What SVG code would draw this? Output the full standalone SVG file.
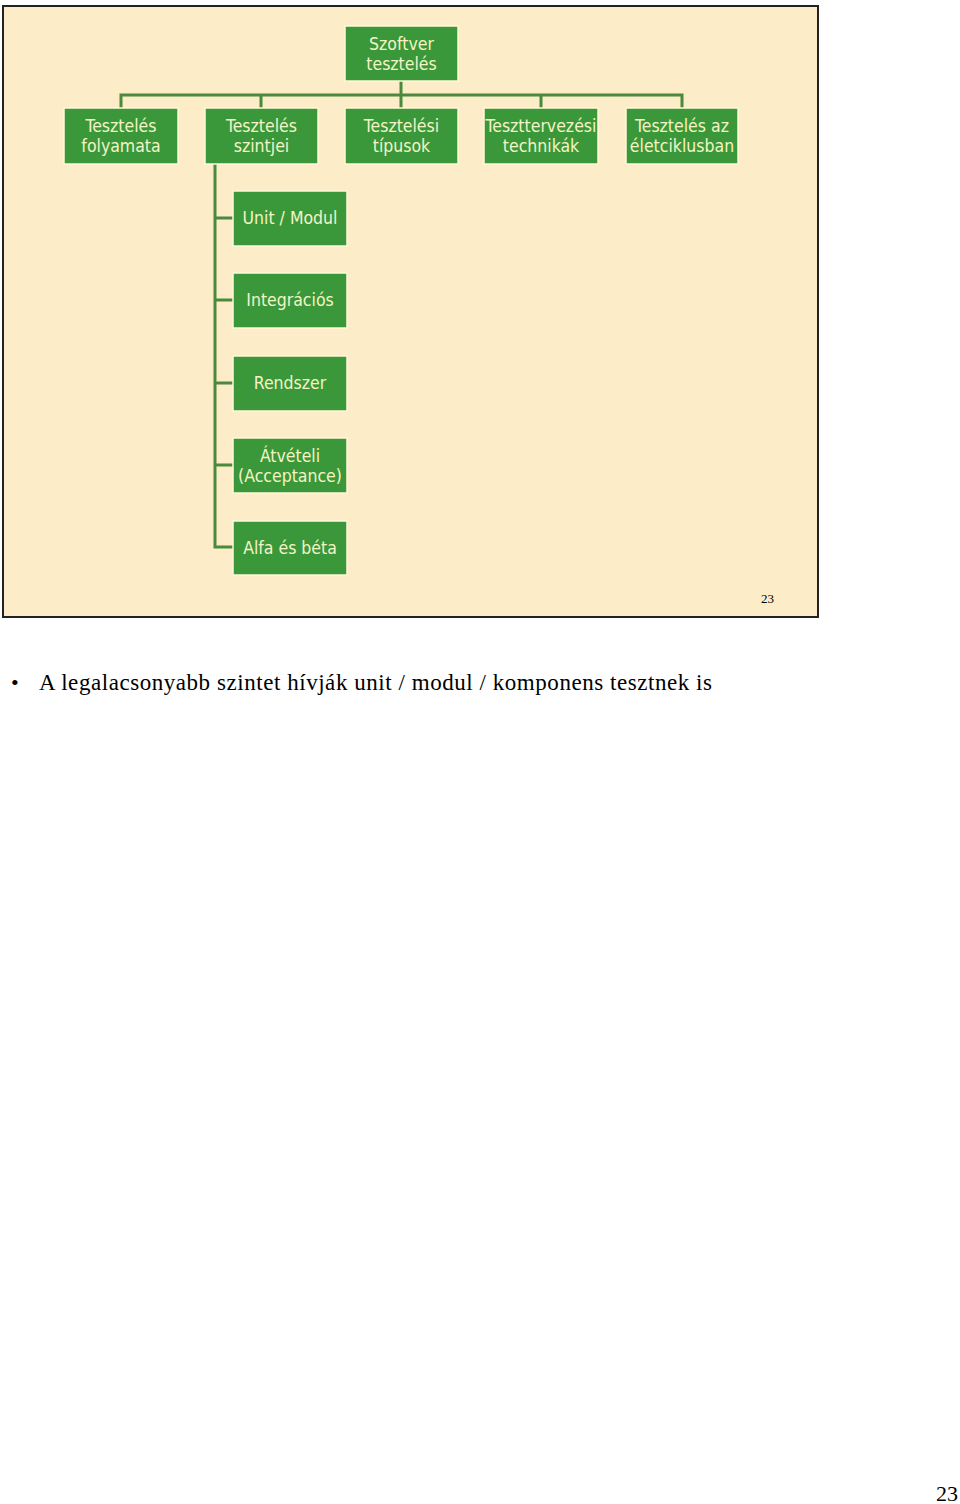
<svg xmlns="http://www.w3.org/2000/svg" width="960" height="1504" viewBox="0 0 960 1504">
<style>
.box{fill:#3a983a;stroke:#fff6d8;stroke-width:1.5}
.t{font-family:"DejaVu Sans Condensed","DejaVu Sans",sans-serif;font-stretch:condensed;font-size:17.5px;fill:#f4f4c6;text-anchor:middle}
.c{stroke:#4b8a3c;stroke-width:3;fill:none}
.serif{font-family:"Liberation Serif","Times New Roman",serif;fill:#000}
</style>
<rect x="0" y="0" width="960" height="1504" fill="#ffffff"/>
<rect x="3" y="6" width="815" height="611" fill="#fdecc8" stroke="#222" stroke-width="2"/>
<g id="connectors">
<path class="c" d="M401 81 V95 M121 108 V95 H682 V108 M261 95 V108 M401 95 V108 M541 95 V108"/>
<path class="c" d="M215 164 V547 H233 M215 218 H233 M215 300 H233 M215 383 H233 M215 465 H233"/>
</g>
<g id="n-root"><rect class="box" x="345" y="26" width="113" height="55"/><text class="t" x="401.5" y="50">Szoftver</text><text class="t" x="401.5" y="70">tesztelés</text></g>
<g id="n-folyamata"><rect class="box" x="64" y="108" width="114" height="56"/><text class="t" x="121" y="132">Tesztelés</text><text class="t" x="121" y="152">folyamata</text></g>
<g id="n-szintjei"><rect class="box" x="205" y="108" width="113" height="56"/><text class="t" x="261.5" y="132">Tesztelés</text><text class="t" x="261.5" y="152">szintjei</text></g>
<g id="n-tipusok"><rect class="box" x="345" y="108" width="113" height="56"/><text class="t" x="401.5" y="132">Tesztelési</text><text class="t" x="401.5" y="152">típusok</text></g>
<g id="n-technikak"><rect class="box" x="484" y="108" width="114" height="56"/><text class="t" x="541" y="132">Teszttervezési</text><text class="t" x="541" y="152">technikák</text></g>
<g id="n-eletciklus"><rect class="box" x="626" y="108" width="112" height="56"/><text class="t" x="682" y="132">Tesztelés az</text><text class="t" x="682" y="152">életciklusban</text></g>
<g id="n-unit"><rect class="box" x="233" y="191" width="114" height="55"/><text class="t" x="290" y="224">Unit / Modul</text></g>
<g id="n-integracios"><rect class="box" x="233" y="273" width="114" height="55"/><text class="t" x="290" y="306">Integrációs</text></g>
<g id="n-rendszer"><rect class="box" x="233" y="356" width="114" height="55"/><text class="t" x="290" y="389">Rendszer</text></g>
<g id="n-atveteli"><rect class="box" x="233" y="438" width="114" height="55"/><text class="t" x="290" y="462">Átvételi</text><text class="t" x="290" y="482">(Acceptance)</text></g>
<g id="n-alfa"><rect class="box" x="233" y="521" width="114" height="54"/><text class="t" x="290" y="554">Alfa és béta</text></g>
<text class="serif" x="761" y="603" font-size="13">23</text>
<text class="serif" x="11" y="690" font-size="22">•</text>
<text class="serif" x="39" y="690" font-size="23" textLength="673" lengthAdjust="spacing">A legalacsonyabb szintet hívják unit / modul / komponens tesztnek is</text>
<text class="serif" x="936" y="1501" font-size="22">23</text>
</svg>
